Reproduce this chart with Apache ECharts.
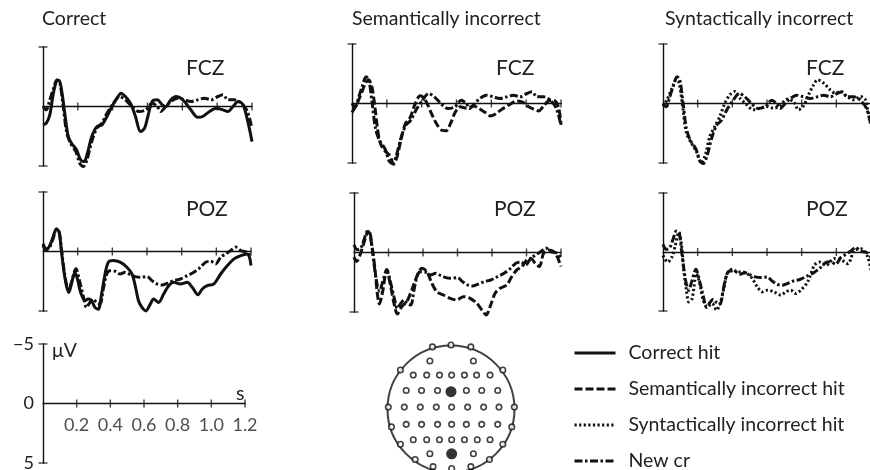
<!DOCTYPE html>
<html><head><meta charset="utf-8">
<script src="https://cdn.jsdelivr.net/npm/echarts@6/dist/echarts.min.js"></script>
<style>html,body{margin:0;padding:0;background:#fff}#c{width:870px;height:470px}</style>
</head><body><div id="c"></div>
<script>
// ---------------- data ----------------
const timeTicks = [0.2, 0.4, 0.6, 0.8, 1.0, 1.2];
const timeTickLabels = ['0.2', '0.4', '0.6', '0.8', '1.0', '1.2'];
const voltCaps = [-5, 5];
const voltTickLabels = ['\u22125', '0', '5'];   // for -5, 0, 5
const panelTitles = ['Correct', 'Semantically incorrect', 'Syntactically incorrect'];
const siteNames = ['FCZ', 'POZ'];
const legendNames = ['Correct hit', 'Semantically incorrect hit', 'Syntactically incorrect hit', 'New cr'];
const unitVolt = '\u03bcV';
const unitTime = 's';

// [time s, amplitude µV]  (negative plotted up)
const correctHitFCZ = [[0,1.54],[0.019,1.4],[0.039,0.7],[0.058,-0.98],[0.077,-2.1],[0.093,-2.19],[0.108,-1.26],[0.125,0.56],[0.145,2.53],[0.164,3.09],[0.193,3.65],[0.216,4.49],[0.236,4.63],[0.255,3.93],[0.28,2.53],[0.309,1.69],[0.338,1.54],[0.367,0.84],[0.396,0],[0.425,-0.7],[0.448,-1.12],[0.473,-0.84],[0.502,-0.28],[0.531,0.84],[0.56,2.11],[0.583,1.83],[0.602,0.84],[0.627,-0.42],[0.656,-0.56],[0.685,-0.14],[0.705,0],[0.734,-0.56],[0.763,-0.84],[0.792,-0.7],[0.82,-0.28],[0.849,0.28],[0.888,0.9],[0.917,0.84],[0.956,0.42],[0.994,0.14],[1.033,0.28],[1.062,0.42],[1.091,0],[1.12,-0.42],[1.149,-0.14],[1.178,1.4],[1.2,2.95]];
const newCrFCZ = [[0,0],[0.019,0.28],[0.039,-0.56],[0.058,-1.4],[0.081,-2.25],[0.097,-1.97],[0.116,0],[0.135,2.1],[0.158,3.1],[0.189,3.8],[0.212,4.8],[0.232,5.05],[0.255,4.35],[0.28,2.95],[0.309,1.83],[0.338,1.4],[0.367,0.56],[0.405,-0.28],[0.44,-0.84],[0.473,-0.56],[0.51,0],[0.55,0.42],[0.59,0.28],[0.627,-0.28],[0.656,0],[0.676,0.42],[0.705,0],[0.734,-0.42],[0.772,-0.7],[0.81,-0.56],[0.85,-0.42],[0.888,-0.56],[0.927,-0.7],[0.965,-0.56],[1.004,-0.84],[1.033,-0.98],[1.062,-0.56],[1.1,-0.56],[1.139,-0.28],[1.174,0.42],[1.197,1.69]];
const semanticHitFCZ = [[0,0.76],[0.017,0.34],[0.036,-0.22],[0.056,-0.93],[0.075,-1.63],[0.094,-2.0],[0.113,-1.49],[0.132,0.34],[0.148,2.3],[0.165,3.43],[0.19,3.99],[0.219,4.41],[0.238,5.11],[0.257,4.55],[0.28,3.15],[0.305,1.74],[0.334,1.18],[0.362,0.06],[0.391,-0.65],[0.41,-0.5],[0.433,0.06],[0.458,0.9],[0.487,1.74],[0.516,2.25],[0.54,2.3],[0.564,1.74],[0.592,0.76],[0.621,0.28],[0.659,0.39],[0.698,0.2],[0.726,0.39],[0.765,0.76],[0.794,1.04],[0.822,0.9],[0.861,0.48],[0.909,0.06],[0.947,-0.22],[0.985,-0.08],[1.014,0.28],[1.043,0.48],[1.072,0.62],[1.1,0.2],[1.129,-0.22],[1.158,-0.28],[1.186,0.34],[1.2,1.8]];
const syntacticHitFCZ = [[0,0.25],[0.023,-0.31],[0.048,-1.15],[0.077,-1.99],[0.093,-1.71],[0.116,0.53],[0.135,2.49],[0.164,3.33],[0.193,4.03],[0.222,5.01],[0.247,4.17],[0.27,2.77],[0.299,1.93],[0.328,1.09],[0.357,-0.03],[0.386,-0.73],[0.415,-1.01],[0.444,-0.45],[0.483,0.11],[0.521,0.53],[0.56,0.39],[0.598,0.25],[0.637,0.39],[0.676,0.2],[0.714,-0.36],[0.753,-0.17],[0.782,0.53],[0.811,0.2],[0.84,-0.73],[0.869,-1.57],[0.892,-1.99],[0.927,-1.71],[0.965,-1.15],[0.994,-0.87],[1.023,-1.01],[1.062,-0.59],[1.1,-0.31],[1.139,-0.59],[1.168,-0.31],[1.181,0.53],[1.2,1.65]];

const correctHitPOZ = [[0,-0.51],[0.019,-0.08],[0.039,-0.51],[0.058,-1.21],[0.077,-1.92],[0.093,-1.63],[0.106,-0.08],[0.12,1.61],[0.135,2.87],[0.149,3.44],[0.164,2.73],[0.184,1.75],[0.199,2.31],[0.217,3.44],[0.242,4.14],[0.261,4.0],[0.28,4.14],[0.3,4.7],[0.319,4.85],[0.338,3.58],[0.358,1.89],[0.377,0.9],[0.406,0.76],[0.445,0.9],[0.484,1.32],[0.513,1.89],[0.532,2.87],[0.551,4.14],[0.571,4.7],[0.594,4.99],[0.619,4.42],[0.638,4.0],[0.667,4.28],[0.696,3.58],[0.725,2.87],[0.754,2.59],[0.793,2.73],[0.832,2.59],[0.861,3.01],[0.894,3.63],[0.919,3.15],[0.948,2.87],[0.986,2.73],[1.025,1.89],[1.064,1.18],[1.102,0.62],[1.141,0.34],[1.176,0.2],[1.19,0.42],[1.2,1.18]];
const newCrPOZ = [[0,-0.65],[0.019,-0.23],[0.039,-0.37],[0.058,-1.07],[0.077,-1.77],[0.093,-1.63],[0.106,-0.23],[0.122,1.61],[0.135,2.73],[0.149,3.24],[0.164,2.59],[0.19,1.46],[0.213,2.59],[0.232,3.72],[0.251,4.7],[0.271,4.28],[0.29,4.0],[0.309,4.28],[0.329,4.42],[0.348,3.15],[0.368,1.89],[0.387,1.61],[0.416,1.66],[0.445,1.89],[0.474,1.75],[0.503,1.94],[0.532,2.11],[0.561,2.17],[0.6,2.11],[0.629,2.45],[0.658,2.73],[0.687,2.82],[0.716,2.68],[0.754,2.45],[0.793,2.31],[0.832,2.03],[0.87,1.75],[0.909,1.32],[0.938,0.9],[0.967,0.82],[0.996,1.04],[1.025,0.48],[1.054,0.2],[1.083,-0.08],[1.112,-0.37],[1.141,-0.08],[1.176,0.06],[1.2,0.48]];
const semanticHitPOZ = [[0,0.39],[0.015,0.76],[0.035,0.2],[0.054,-0.65],[0.083,-1.77],[0.103,-0.65],[0.122,1.46],[0.135,3.43],[0.147,4.33],[0.166,3.29],[0.19,1.46],[0.209,2.58],[0.232,4.27],[0.251,5.17],[0.277,4.55],[0.306,4.13],[0.335,3.15],[0.364,2.02],[0.393,1.32],[0.422,1.6],[0.451,2.58],[0.48,3.29],[0.518,3.57],[0.557,3.85],[0.596,3.99],[0.634,3.71],[0.673,3.85],[0.712,4.27],[0.741,4.83],[0.766,5.25],[0.789,4.55],[0.818,3.43],[0.847,3.01],[0.886,2.72],[0.915,2.02],[0.944,1.46],[0.973,1.18],[1.002,0.62],[1.025,0.48],[1.05,0.9],[1.075,1.18],[1.099,0.06],[1.128,-0.22],[1.157,-0.08],[1.176,0.28],[1.2,1.18]];
const syntacticHitPOZ = [[0,0.28],[0.027,0.85],[0.052,0.42],[0.071,-0.56],[0.091,-1.69],[0.106,-0.7],[0.12,1.55],[0.135,3.24],[0.149,4.23],[0.168,3.94],[0.193,1.83],[0.212,2.68],[0.232,4.08],[0.255,4.65],[0.284,4.37],[0.309,4.93],[0.332,4.23],[0.351,3.1],[0.371,1.83],[0.4,1.46],[0.429,1.69],[0.458,1.69],[0.486,1.83],[0.515,2.25],[0.544,2.96],[0.573,3.38],[0.602,3.24],[0.641,3.38],[0.68,3.66],[0.708,3.38],[0.737,3.24],[0.766,3.52],[0.795,3.24],[0.834,2.54],[0.873,1.13],[0.902,0.85],[0.94,1.13],[0.988,0.56],[1.027,0.65],[1.066,0.99],[1.104,-0.14],[1.143,-0.28],[1.181,0.42],[1.2,1.55]];

// electrode montage (head-normalised coordinates, nose up)
const electrodes = [[-0.29,0.97],[0,1.0],[0.31,0.97],[-0.33,0.75],[0.35,0.75],[-0.79,0.61],[0.81,0.61],
 [-0.59,0.53],[-0.38,0.53],[-0.18,0.53],[0.01,0.53],[0.21,0.53],[0.40,0.53],[0.61,0.53],
 [-0.70,0.29],[-0.46,0.29],[-0.21,0.29],[0.24,0.29],[0.48,0.29],[0.73,0.29],
 [-0.98,0.03],[-0.73,0.03],[-0.48,0.03],[-0.23,0.03],[0.01,0.03],[0.26,0.03],[0.51,0.03],[0.75,0.03],[0.99,0.03],
 [-0.70,-0.24],[-0.46,-0.24],[-0.21,-0.24],[0.01,-0.24],[0.24,-0.24],[0.48,-0.24],[0.73,-0.24],
 [-0.93,-0.28],[0.95,-0.28],
 [-0.59,-0.48],[-0.38,-0.48],[-0.18,-0.48],[0.01,-0.48],[0.21,-0.48],[0.41,-0.48],[0.61,-0.48],
 [-0.79,-0.55],[0.81,-0.55],[-0.33,-0.70],[0.35,-0.70],
 [-0.56,-0.79],[-0.28,-0.90],[0.01,-0.93],[0.31,-0.90],[0.60,-0.79]];
const activeElectrodes = [[0.0,0.27],[0.01,-0.70]];   // FCZ, POZ

// ---------------- layout & styles ----------------
const FONT = 'Lato';
const INK = '#111';
const panelGrids = [
  {left:43, top:47, width:209, height:119}, {left:352, top:44, width:209, height:119}, {left:663, top:44, width:208, height:119},
  {left:43, top:192, width:208, height:119}, {left:354, top:193, width:207, height:119}, {left:663, top:193, width:208, height:118}
];
const scaleGrid = {left:43, top:344, width:202, height:119};
const headGrid = {left:387, top:345, width:128, height:128};

const styles = {
  'Correct hit': {type:'solid'},
  'Semantically incorrect hit': {type:[8,3]},
  'Syntactically incorrect hit': {type:[2.2,2.4]},
  'New cr': {type:[8,2.5,2.5,2.5]}
};
function lineSeries(name, data, g) {
  return {type:'line', name, data, xAxisIndex:g, yAxisIndex:g, symbol:'none', smooth:0.3, clip:false,
    lineStyle:{color:INK, width:3, type:styles[name].type}, itemStyle:{color:INK}, silent:true, z:3};
}
function tickSeries(g, withLabels) {
  return [
    {type:'scatter', name:'xt'+g, xAxisIndex:g, yAxisIndex:g, data:timeTicks.map(t=>[t,0]), symbol:'rect', symbolSize:[1.4,8],
     itemStyle:{color:INK}, silent:true, z:2,
     label:{show:!!withLabels, position:'bottom', distance:9, color:'#222', fontSize:18, fontFamily:FONT,
       formatter:p => timeTickLabels[p.dataIndex]}},
    {type:'scatter', name:'yc'+g, xAxisIndex:g, yAxisIndex:g, data:voltCaps.map(v=>[0,v]), symbol:'rect', symbolSize:[9,1.4],
     itemStyle:{color:INK}, silent:true, z:2}
  ];
}

const grids = panelGrids.concat([scaleGrid, headGrid]).map(g => Object.assign({outerBoundsMode:'none', containLabel:false}, g));
const xAxes = [], yAxes = [], series = [];
for (let g = 0; g < 7; g++) {
  const isScale = g === 6;
  xAxes.push({gridIndex:g, type:'value', min:0, max:1.2, interval:0.2,
    axisLine:{onZero:true, lineStyle:{color:INK, width:1.4}}, axisTick:{show:false}, splitLine:{show:false},
    axisLabel:{show:false}});
  yAxes.push({gridIndex:g, type:'value', min:-5, max:5, interval:5, inverse:true,
    axisLine:{show:true, lineStyle:{color:INK, width:1.4}}, axisTick:{show:false}, splitLine:{show:false},
    axisLabel:{show:isScale, margin:9, color:'#222', fontSize:18, fontFamily:FONT,
      formatter:v => voltTickLabels[[-5,0,5].indexOf(v)]}});
  series.push(...tickSeries(g, isScale));
}
xAxes.push({gridIndex:7, type:'value', min:-1, max:1, show:false});
yAxes.push({gridIndex:7, type:'value', min:-1, max:1, show:false});

const condFCZ = [correctHitFCZ, semanticHitFCZ, syntacticHitFCZ];
const condPOZ = [correctHitPOZ, semanticHitPOZ, syntacticHitPOZ];
for (let p = 0; p < 3; p++) {
  series.push(lineSeries('New cr', newCrFCZ, p));
  series.push(lineSeries(legendNames[p], condFCZ[p], p));
  series.push(lineSeries('New cr', newCrPOZ, p + 3));
  series.push(lineSeries(legendNames[p], condPOZ[p], p + 3));
}
// head diagram
const hs = {xAxisIndex:7, yAxisIndex:7, silent:true, type:'scatter'};
series.push(Object.assign({}, hs, {name:'head', data:[[0,0]], symbol:'circle', symbolSize:127,
  itemStyle:{color:'rgba(0,0,0,0)', borderColor:INK, borderWidth:2}}));
series.push(Object.assign({}, hs, {name:'earL', data:[[-1.04,0.04]], symbol:'path://M8,0 C-2,4 -2,24 8,28', symbolSize:[7,28],
  itemStyle:{color:'rgba(0,0,0,0)', borderColor:INK, borderWidth:1.6}}));
series.push(Object.assign({}, hs, {name:'earR', data:[[1.04,0.04]], symbol:'path://M0,0 C10,4 10,24 0,28', symbolSize:[7,28],
  itemStyle:{color:'rgba(0,0,0,0)', borderColor:INK, borderWidth:1.6}}));
series.push(Object.assign({}, hs, {name:'nose', data:[[0,1.1]], symbol:'path://M0,10 L3.5,0 L7,10', symbolSize:[7,11],
  itemStyle:{color:'rgba(0,0,0,0)', borderColor:INK, borderWidth:1.6}}));
series.push(Object.assign({}, hs, {name:'electrodes', data:electrodes, symbol:'circle', symbolSize:5.5,
  itemStyle:{color:'#fff', borderColor:INK, borderWidth:1.6}, z:4}));
series.push(Object.assign({}, hs, {name:'active', data:activeElectrodes, symbol:'circle', symbolSize:11,
  itemStyle:{color:'#000'}, z:5}));

const txt = {fontFamily:FONT, fontSize:19.5, fontWeight:'normal', color:'#222'};
const siteTxt = Object.assign({}, txt, {fontSize:21});
const titles = [
  {text:panelTitles[0], left:42, top:9, textStyle:txt}, {text:panelTitles[1], left:352, top:9, textStyle:txt}, {text:panelTitles[2], left:665, top:9, textStyle:txt},
  {text:siteNames[0], left:186, top:58, textStyle:siteTxt}, {text:siteNames[0], left:496, top:58, textStyle:siteTxt}, {text:siteNames[0], left:806, top:58, textStyle:siteTxt},
  {text:siteNames[1], left:186, top:199, textStyle:siteTxt}, {text:siteNames[1], left:494, top:199, textStyle:siteTxt}, {text:siteNames[1], left:806, top:199, textStyle:siteTxt},
  {text:unitVolt, left:52, top:341, textStyle:txt}, {text:unitTime, left:236, top:384, textStyle:txt}
].map(t => Object.assign({padding:0}, t));

const chart = echarts.init(document.getElementById('c'), null, {renderer:'canvas'});
chart.setOption({
  animation:false,
  backgroundColor:'#fff',
  title:titles,
  legend:{data:legendNames, orient:'vertical', left:573, top:343, height:200, itemWidth:41, itemHeight:14, itemGap:16,
    padding:0, selectedMode:false, textStyle:Object.assign({padding:[0,0,0,8]}, txt),
    lineStyle:{width:3}, itemStyle:{opacity:0, borderWidth:0}},
  grid:grids,
  xAxis:xAxes,
  yAxis:yAxes,
  series:series
});
</script></body></html>
